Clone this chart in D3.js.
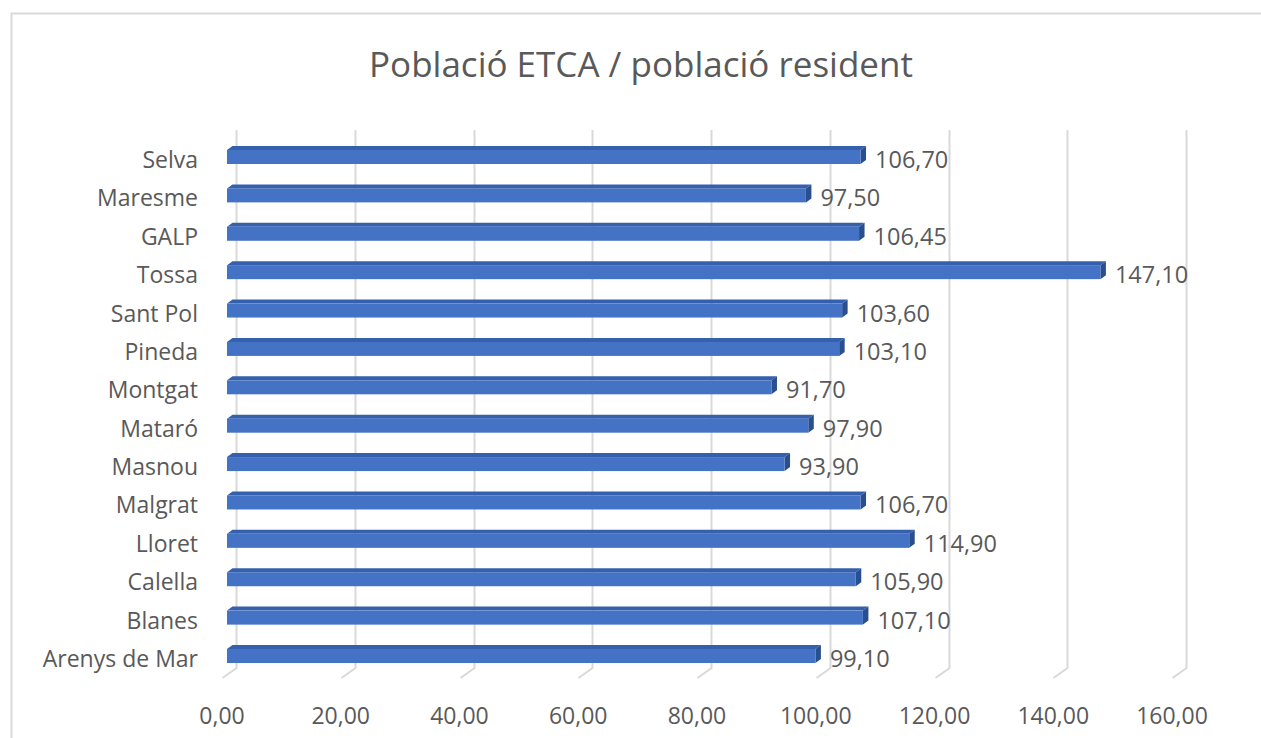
<!DOCTYPE html>
<html>
<head>
<meta charset="utf-8">
<script src="https://cdn.jsdelivr.net/npm/d3@7"></script>
<style>
  body { margin: 0; background: #fff; }
  text { font-family: "Open Sans", Lato, sans-serif; fill: #595959; }
</style>
</head>
<body>
<svg></svg>
<script>
var svgWidth = 1261;
var svgHeight = 738;

// data, top to bottom as in the picture
var categories = ["Selva", "Maresme", "GALP", "Tossa", "Sant Pol", "Pineda", "Montgat",
                  "Mataró", "Masnou", "Malgrat", "Lloret", "Calella", "Blanes", "Arenys de Mar"];
var values = [106.70, 97.50, 106.45, 147.10, 103.60, 103.10, 91.70,
              97.90, 93.90, 106.70, 114.90, 105.90, 107.10, 99.10];
var tickValues = [0, 20, 40, 60, 80, 100, 120, 140, 160];
var title = "Població ETCA / població resident";

var fmt = function(v) { return d3.format(".2f")(v).replace(".", ","); };

var svg = d3.select("svg")
    .attr("width", svgWidth)
    .attr("height", svgHeight);

// chart frame
svg.append("rect")
    .attr("x", 11.5).attr("y", 13.5)
    .attr("width", 1300).attr("height", 800)
    .attr("fill", "none")
    .attr("stroke", "#d9d9d9")
    .attr("stroke-width", 2);

svg.append("text")
    .attr("x", 641).attr("y", 77)
    .attr("text-anchor", "middle")
    .attr("font-size", 35)
    .text(title);

// back wall scale, depth goes down-left to the front
var x = d3.scaleLinear().domain([0, 160]).range([236, 1186]);
var depthX = -14, depthY = 10;
var gridTop = 130, gridBottom = 668;

var y = d3.scalePoint().domain(categories).range([157, 656]);

// gridlines on back wall + floor
var grid = svg.append("g");
tickValues.forEach(function(t) {
    var gx = Math.round(x(t)) + 0.5;
    grid.append("path")
        .attr("d", "M" + gx + "," + gridTop + "V" + gridBottom + "l" + depthX + "," + depthY)
        .attr("fill", "none")
        .attr("stroke", "#d9d9d9")
        .attr("stroke-width", 2);
    svg.append("text")
        .attr("x", x(t) + depthX)
        .attr("y", 724)
        .attr("text-anchor", "middle")
        .attr("font-size", 23)
        .text(fmt(t));
});

// bars: front face, top face, end face
var frontOff = -9, barH = 14, topDx = 5.5, topDy = -4;
var bars = svg.selectAll(".bar")
    .data(categories)
    .enter()
    .append("g")
    .attr("class", "bar");

bars.each(function(c, i) {
    var g = d3.select(this);
    var x0 = x(0) + frontOff, x1 = x(values[i]) + frontOff;
    var yt = y(c) - barH / 2, yb = y(c) + barH / 2;
    g.append("path")
        .attr("d", "M" + x0 + "," + yt + "l" + topDx + "," + topDy + "H" + (x1 + topDx) + "L" + x1 + "," + yt + "Z")
        .attr("fill", "#3560ad");
    g.append("path")
        .attr("d", "M" + x1 + "," + yt + "l" + topDx + "," + topDy + "V" + (yb + topDy) + "L" + x1 + "," + yb + "Z")
        .attr("fill", "#2a4f8f");
    g.append("rect")
        .attr("x", x0).attr("y", yt)
        .attr("width", x1 - x0).attr("height", barH)
        .attr("fill", "#4472c4");
    g.append("text")
        .attr("x", x1 + topDx + 9)
        .attr("y", y(c) + 11)
        .attr("font-size", 23.5)
        .text(fmt(values[i]));
    svg.append("text")
        .attr("x", 198)
        .attr("y", y(c) + 11)
        .attr("text-anchor", "end")
        .attr("font-size", 23)
        .text(c);
});
</script>
</body>
</html>
